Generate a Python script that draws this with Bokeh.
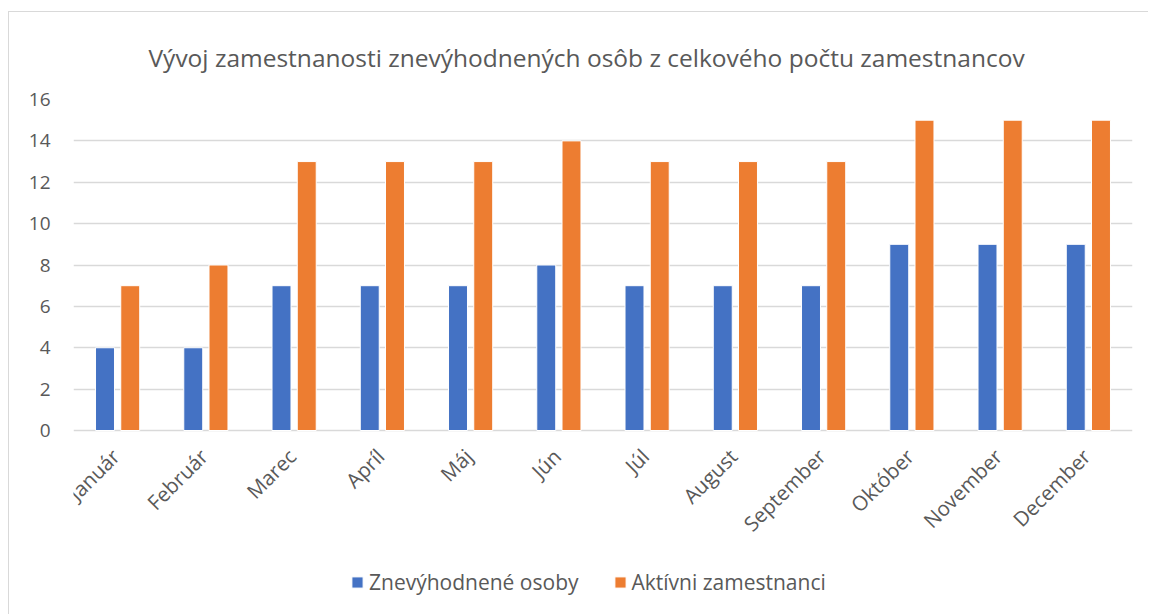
import math
from bokeh.plotting import figure
from bokeh.models import (FactorRange, Range1d, FixedTicker, ColumnDataSource, Legend,
                          LegendItem, LabelSet)
from bokeh.core.properties import value
from bokeh.transform import dodge
from bokeh.embed import file_html
from bokeh.resources import INLINE

months = ["Január", "Február", "Marec", "Apríl", "Máj", "Jún", "Júl", "August",
          "September", "Október", "November", "December"]
znevyhodnene = [4, 4, 7, 7, 7, 8, 7, 7, 7, 9, 9, 9]
aktivni = [7, 8, 13, 13, 13, 14, 13, 13, 13, 15, 15, 15]
series_names = ["Znevýhodnené osoby", "Aktívni zamestnanci"]
y_ticks = [0, 2, 4, 6, 8, 10, 12, 14, 16]
title_text = "Vývoj zamestnanosti znevýhodnených osôb z celkového počtu zamestnancov"

BLUE = "#4472C4"
ORANGE = "#ED7D31"
GRID = "#D9D9D9"
TXT = "#595959"
FONT = "Open Sans"

# layout geometry (pixels)
FIG_H = 603
TOP = 87
VALUE_PX = 331          # pixel height of the 0..16 value band
frame_h = FIG_H - TOP
below_px = frame_h - VALUE_PX
y_max = max(y_ticks)
y_min = -below_px * y_max / VALUE_PX

src = ColumnDataSource(dict(m=months, a=znevyhodnene, b=aktivni,
                            base=[0] * len(months)))

p = figure(x_range=FactorRange(*months), y_range=Range1d(y_min, y_max),
           width=1140, height=FIG_H, output_backend="svg", toolbar_location=None,
           min_border_left=64, min_border_right=17, min_border_top=TOP, min_border_bottom=0,
           styles={"border-left": "1px solid #D9D9D9", "border-top": "1px solid #D9D9D9",
                   "margin-top": "11px", "margin-left": "8px"})
p.x_range.range_padding = 0

r1 = p.vbar(x=dodge("m", -0.143, range=p.x_range), top="a", width=0.215, source=src,
            fill_color=BLUE, line_color="white", line_width=1)
r2 = p.vbar(x=dodge("m", 0.143, range=p.x_range), top="b", width=0.215, source=src,
            fill_color=ORANGE, line_color="white", line_width=1)

p.title.text = title_text
p.title.align = "left"
p.title.offset = 75
p.title.text_font = FONT
p.title.text_font_style = "normal"
p.title.text_font_size = "24.5px"
p.title.text_color = TXT
p.title.standoff = 52

p.outline_line_color = None
p.xgrid.grid_line_color = None
p.ygrid.grid_line_color = GRID
p.ygrid.grid_line_width = 1.5
p.ygrid.ticker = FixedTicker(ticks=y_ticks)

p.yaxis.ticker = FixedTicker(ticks=y_ticks)
p.yaxis.axis_line_color = None
p.yaxis.major_tick_line_color = None
p.yaxis.minor_tick_line_color = None
p.yaxis.major_label_standoff = 17
p.yaxis.major_label_text_font = FONT
p.yaxis.major_label_text_font_size = "19px"
p.yaxis.major_label_text_color = TXT

p.xaxis.visible = False

xlabels = LabelSet(x="m", y="base", text="m", source=src, angle=math.pi / 4,
                   text_align="right", text_baseline="middle",
                   x_offset=-2, y_offset=-22,
                   text_font=value(FONT), text_font_size=value("20.5px"),
                   text_color=value(TXT))
p.add_layout(xlabels)

legend = Legend(items=[LegendItem(label=series_names[0], renderers=[r1]),
                       LegendItem(label=series_names[1], renderers=[r2])],
                orientation="horizontal", location=(277, 19),
                padding=0, margin=0, spacing=34, glyph_width=14, glyph_height=14,
                label_standoff=5, border_line_color=None, background_fill_alpha=0,
                label_text_font=FONT, label_text_font_size="21px", label_text_color=TXT)
p.add_layout(legend, "center")

open("out.html", "w").write(file_html(p, INLINE))
